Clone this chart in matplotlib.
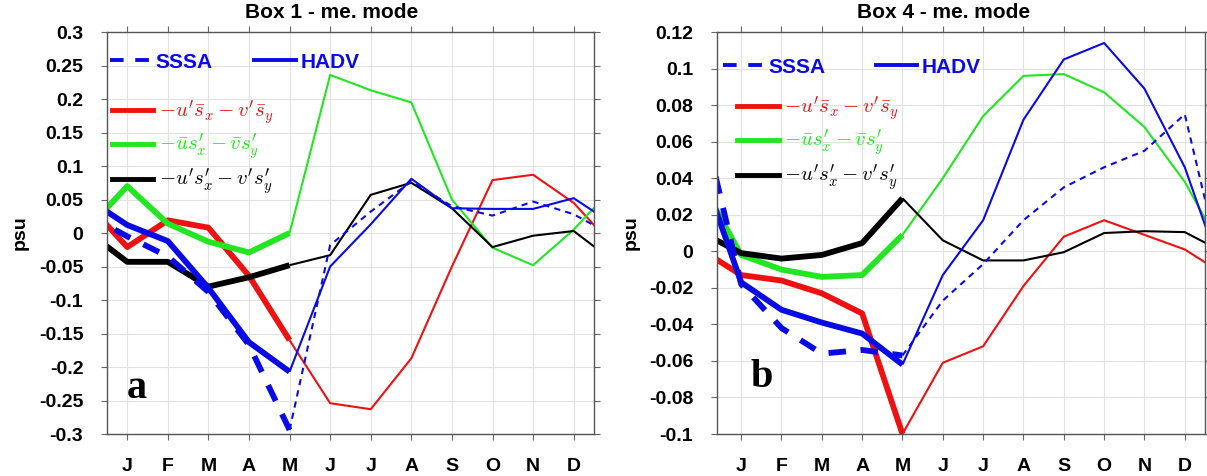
import numpy as np
import matplotlib
matplotlib.use("Agg")
import matplotlib.pyplot as plt
from matplotlib.lines import Line2D

plt.rcParams["font.family"] = ["Liberation Sans", "DejaVu Sans"]
plt.rcParams["mathtext.fontset"] = "cm"

months = ["J", "F", "M", "A", "M", "J", "J", "A", "S", "O", "N", "D"]

# Box 1 - monthly values (psu), Jan..Dec
box1_sssa = [-0.005, -0.035, -0.088, -0.167, -0.294, -0.018, 0.032, 0.077, 0.040, 0.026, 0.047, 0.028]
box1_hadv = [0.012, -0.012, -0.082, -0.163, -0.207, -0.050, 0.013, 0.081, 0.037, 0.036, 0.036, 0.052]
box1_red = [-0.021, 0.019, 0.008, -0.064, -0.160, -0.254, -0.263, -0.187, -0.050, 0.079, 0.087, 0.045]
box1_green = [0.070, 0.014, -0.013, -0.029, 0.000, 0.236, 0.213, 0.195, 0.050, -0.022, -0.048, 0.005]
box1_black = [-0.043, -0.043, -0.080, -0.066, -0.048, -0.033, 0.057, 0.075, 0.037, -0.021, -0.004, 0.003]

# Box 4
box4_sssa = [-0.018, -0.042, -0.056, -0.054, -0.057, -0.027, -0.007, 0.017, 0.035, 0.046, 0.055, 0.075]
box4_hadv = [-0.017, -0.032, -0.039, -0.045, -0.062, -0.013, 0.017, 0.072, 0.105, 0.114, 0.089, 0.046]
box4_red = [-0.013, -0.016, -0.023, -0.034, -0.100, -0.061, -0.052, -0.019, 0.008, 0.017, 0.009, 0.001]
box4_green = [-0.002, -0.010, -0.014, -0.013, 0.009, 0.040, 0.074, 0.096, 0.097, 0.087, 0.068, 0.038]
box4_black = [-0.001, -0.004, -0.002, 0.0045, 0.029, 0.006, -0.005, -0.005, -0.0005, 0.010, 0.011, 0.0105]

box1_yticks = np.round(np.arange(-0.3, 0.301, 0.05), 2)
box4_yticks = np.round(np.arange(-0.1, 0.121, 0.02), 2)

BLUE = "#0a0ae6"
RED = "#ee1111"
GREEN = "#22e622"
BLACK = "#000000"

term_labels = [r"$-u^{\prime}\bar{s}_x - v^{\prime}\bar{s}_y$",
               r"$-\bar{u}s_x^{\prime} - \bar{v}s_y^{\prime}$",
               r"$-u^{\prime}s_x^{\prime} - v^{\prime}s_y^{\prime}$"]

x_wrap = np.arange(0, 14)


def wrap(vals):
    # annual cycle: previous Dec in front, next Jan at the end
    v = np.asarray(vals, dtype=float)
    return np.concatenate([[v[-1]], v, [v[0]]])


def plot_term(ax, vals, color, dashed=False, split=5):
    y = wrap(vals)
    kw = dict(color=color, solid_capstyle="butt", dash_capstyle="butt")
    if dashed:
        kw["dashes"] = (3, 2.5)
    ax.plot(x_wrap[:split + 1], y[:split + 1], lw=4.2, **kw)
    ax.plot(x_wrap[split:], y[split:], lw=1.5, **kw)


def fmt(v):
    s = f"{v:.2f}".rstrip("0").rstrip(".")
    return "0" if s in ("-0", "0") else s


def panel(ax, sssa, hadv, red, green, black, yticks, xlim, title, letter,
          letter_pos, title_x, leg1_anchor, leg2_anchor, colspace):
    plot_term(ax, red, RED)
    plot_term(ax, green, GREEN)
    plot_term(ax, black, BLACK)
    plot_term(ax, sssa, BLUE, dashed=True)
    plot_term(ax, hadv, BLUE)

    ax.set_xlim(*xlim)
    ax.set_ylim(yticks[0], yticks[-1])
    ax.set_xticks(range(1, 13))
    ax.set_xticklabels(months)
    ax.set_yticks(yticks)
    ax.set_yticklabels([fmt(v) for v in yticks])
    ax.tick_params(direction="out", length=4, width=0.8, color="#666666",
                   top=True, right=True, labelsize=14, pad=13)
    for lab in ax.get_xticklabels() + ax.get_yticklabels():
        lab.set_fontweight("bold")
    ax.grid(True, color="#e2e2e2", lw=0.8)
    ax.set_axisbelow(True)
    for sp in ax.spines.values():
        sp.set_color("#555555")
        sp.set_linewidth(1.0)

    ax.set_title(title, fontsize=15, fontweight="bold", x=title_x, pad=10)
    ax.set_ylabel("psu", fontsize=14, fontweight="bold", labelpad=7)
    ax.text(letter_pos[0], letter_pos[1], letter, transform=ax.transAxes,
            fontsize=29, fontweight="bold", family="Liberation Serif",
            ha="center", va="center")

    h1 = [Line2D([], [], color=BLUE, lw=2.8, dashes=(3.5, 3)),
          Line2D([], [], color=BLUE, lw=2.8)]
    leg1 = ax.legend(h1, ["SSSA", "HADV"], loc="center left",
                     bbox_to_anchor=leg1_anchor, ncol=2, frameon=False,
                     handlelength=2.0, handletextpad=0.2,
                     columnspacing=colspace, borderpad=0, borderaxespad=0,
                     prop=dict(size=15, weight="bold"), labelcolor=BLUE)
    ax.add_artist(leg1)
    h2 = [Line2D([], [], color=c, lw=3.5) for c in (RED, GREEN, BLACK)]
    leg2 = ax.legend(h2, term_labels, loc="center left",
                     bbox_to_anchor=leg2_anchor, frameon=False,
                     handlelength=2.0, handletextpad=0.25, labelspacing=0.25,
                     borderpad=0, borderaxespad=0, prop=dict(size=15))
    for t, c in zip(leg2.get_texts(), (RED, GREEN, BLACK)):
        t.set_color(c)


fig = plt.figure(figsize=(12.07, 4.76), dpi=100)
ax1 = fig.add_axes([0.0886, 0.0882, 0.4035, 0.8445])
ax2 = fig.add_axes([0.594, 0.0882, 0.4043, 0.8445])

panel(ax1, box1_sssa, box1_hadv, box1_red, box1_green, box1_black,
      box1_yticks, (0.5, 12.5), "Box 1 - me. mode", "a", (0.062, 0.112),
      0.462, (0.006, 0.925), (0.010, 0.712), 2.0)
panel(ax2, box4_sssa, box4_hadv, box4_red, box4_green, box4_black,
      box4_yticks, (0.4, 12.5), "Box 4 - me. mode", "b", (0.092, 0.14),
      0.464, (0.012, 0.913), (0.041, 0.722), 2.4)

fig.savefig("out.png", dpi=100)
